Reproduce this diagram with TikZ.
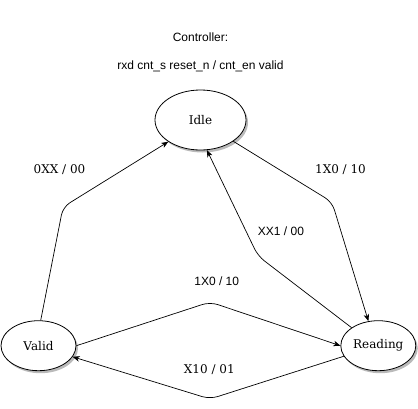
\documentclass[tikz,border=0pt]{standalone}
\usepackage{fontspec}
\setmainfont{DejaVu Serif}
\newfontfamily\lsans{Liberation Sans}
\usetikzlibrary{shapes.geometric,arrows.meta,shadows}
\begin{document}
\begin{tikzpicture}[x=1pt,y=-1pt,
  state/.style={ellipse,draw,fill=white,line width=0.8pt,inner sep=0pt,
    drop shadow={shadow xshift=2pt,shadow yshift=-2.5pt,fill=black!45,opacity=0.6},
    font=\fontsize{12}{14}\selectfont},
  edge/.style={draw,line width=0.7pt,rounded corners=8pt,-{Stealth[length=7pt,width=5.5pt,inset=2pt]}},
  slab/.style={font=\lsans\fontsize{12}{14}\selectfont,inner sep=0pt},
  rlab/.style={font=\fontsize{12}{14}\selectfont,inner sep=0pt}]
\useasboundingbox (0,0) rectangle (418,408);
\node[slab] (title) at (200.5,37) {Controller:};
\node[slab] (sig) at (200.5,66) {rxd cnt\_s reset\_n / cnt\_en valid};
\node[state,minimum width=91pt,minimum height=60pt] (idle) at (200.5,120) {Idle};
\node[state,minimum width=75pt,minimum height=50pt] (valid) at (38.5,345.7) {Valid};
\node[state,minimum width=75pt,minimum height=50pt] (reading) at (378.3,345.7) {Reading};
\coordinate (c1) at (63,207);
\coordinate (c2) at (332,202);
\coordinate (c3) at (258,256);
\coordinate (c4) at (210,302);
\coordinate (c5) at (210,399);
\draw[edge] (valid.85) -- (c1) -- (idle.214);
\draw[edge] (idle.327) -- (c2) -- (reading.112);
\draw[edge] (reading.146) -- (c3) -- (idle.282);
\draw[edge] (valid.0) -- (c4) -- (reading.180);
\draw[edge] (reading.197) -- (c5) -- (valid.342);
\node[rlab] (l1) at (59.5,170) {0XX / 00};
\node[rlab] (l2) at (340.5,170) {1X0 / 10};
\node[slab] (l3) at (281,231) {XX1 / 00};
\node[slab] (l4) at (216.7,281) {1X0 / 10};
\node[rlab] (l5) at (209.3,370) {X10 / 01};
\end{tikzpicture}
\end{document}
